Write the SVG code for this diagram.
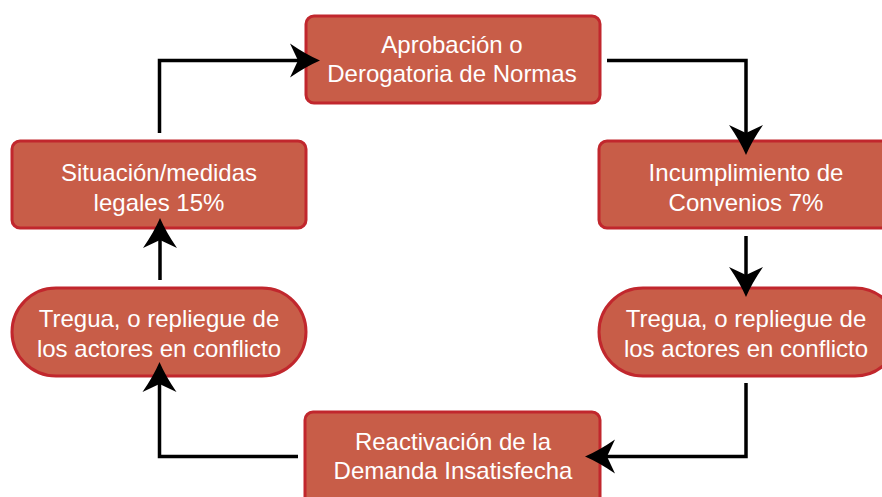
<svg xmlns="http://www.w3.org/2000/svg" width="882" height="497" viewBox="0 0 882 497">
<style>
.node{fill:#c85d48;stroke:#c1272d;stroke-width:3}
.lbl{fill:#ffffff;font-family:"Liberation Sans",Arial,sans-serif;font-size:24px;text-anchor:middle}
.edge{fill:none;stroke:#000000;stroke-width:3.5;stroke-linejoin:miter;stroke-linecap:butt}
</style>
<defs>
<marker id="arr" markerUnits="userSpaceOnUse" viewBox="0 -17 30 34" markerWidth="30" markerHeight="34" refX="8" refY="0" orient="auto" overflow="visible">
<path d="M30,0 Q16,-6 0,-17 L8,0 L0,17 Q16,6 30,0 Z" fill="#000"/>
</marker>
</defs>
<rect width="882" height="497" fill="#ffffff"/>
<g id="node-aprobacion">
<rect class="node" x="306" y="16" width="294" height="87" rx="8"/>
<text class="lbl" x="452" y="53">Aprobación o</text>
<text class="lbl" x="452" y="82">Derogatoria de Normas</text>
</g>
<g id="node-incumplimiento">
<rect class="node" x="599" y="141" width="296" height="87" rx="8"/>
<text class="lbl" x="746" y="181">Incumplimiento de</text>
<text class="lbl" x="746" y="211">Convenios 7%</text>
</g>
<g id="node-tregua-der">
<rect class="node" x="599" y="288" width="300" height="88" rx="44"/>
<text class="lbl" x="746" y="327">Tregua, o repliegue de</text>
<text class="lbl" x="746" y="357">los actores en conflicto</text>
</g>
<g id="node-reactivacion">
<rect class="node" x="305" y="412" width="295" height="95" rx="8"/>
<text class="lbl" x="453" y="450">Reactivación de la</text>
<text class="lbl" x="453" y="479">Demanda Insatisfecha</text>
</g>
<g id="node-tregua-izq">
<rect class="node" x="12" y="288" width="294" height="88" rx="44"/>
<text class="lbl" x="159" y="327">Tregua, o repliegue de</text>
<text class="lbl" x="159" y="357">los actores en conflicto</text>
</g>
<g id="node-situacion">
<rect class="node" x="12" y="141" width="294" height="87" rx="8"/>
<text class="lbl" x="159" y="181">Situación/medidas</text>
<text class="lbl" x="159" y="211">legales 15%</text>
</g>
<g id="connectors">
<path class="edge" d="M607,60.5 H746 V133" marker-end="url(#arr)"/>
<path class="edge" d="M746,236 V275" marker-end="url(#arr)"/>
<path class="edge" d="M746,383 V456.5 H607" marker-end="url(#arr)"/>
<path class="edge" d="M298,456.5 H159.5 V384" marker-end="url(#arr)"/>
<path class="edge" d="M160,280 V240" marker-end="url(#arr)"/>
<path class="edge" d="M159.5,133 V60.5 H298" marker-end="url(#arr)"/>
</g>
</svg>
